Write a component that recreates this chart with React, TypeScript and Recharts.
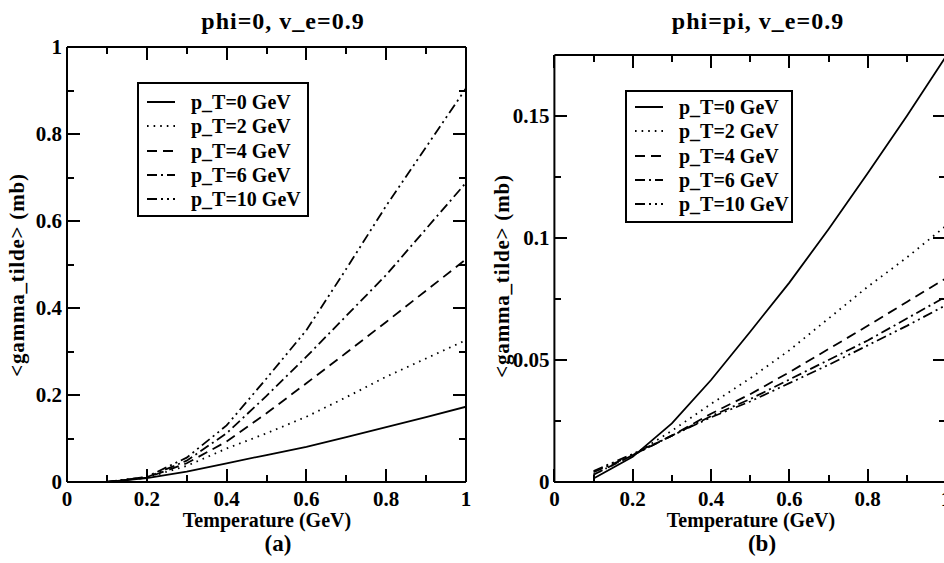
import React from 'react'
import { LineChart, Line, XAxis, YAxis, Legend } from 'recharts'

// temperature grid (GeV)
const temperature = [0.1, 0.2, 0.3, 0.4, 0.5, 0.6, 0.7, 0.8, 0.9, 1.0]

// (a) phi=0, v_e=0.9
const a_pT0 = [0, 0.009, 0.024, 0.043, 0.062, 0.081, 0.103, 0.126, 0.149, 0.173]
const a_pT2 = [0, 0.01, 0.037, 0.077, 0.112, 0.15, 0.195, 0.242, 0.284, 0.326]
const a_pT4 = [0, 0.01, 0.043, 0.093, 0.158, 0.227, 0.297, 0.368, 0.44, 0.512]
const a_pT6 = [0, 0.011, 0.049, 0.112, 0.198, 0.288, 0.382, 0.476, 0.582, 0.688]
const a_pT10 = [0, 0.012, 0.056, 0.13, 0.238, 0.349, 0.49, 0.635, 0.77, 0.905]

// (b) phi=pi, v_e=0.9
const b_pT0 = [0.0014, 0.0103, 0.024, 0.0418, 0.0616, 0.0817, 0.1036, 0.1265, 0.15, 0.1745]
const b_pT2 = [0.003, 0.011, 0.021, 0.032, 0.0425, 0.054, 0.067, 0.08, 0.092, 0.105]
const b_pT4 = [0.003, 0.011, 0.019, 0.028, 0.036, 0.045, 0.0545, 0.064, 0.0738, 0.0835]
const b_pT6 = [0.004, 0.011, 0.019, 0.027, 0.034, 0.042, 0.05, 0.058, 0.067, 0.076]
const b_pT10 = [0.0045, 0.0115, 0.019, 0.0265, 0.033, 0.0405, 0.048, 0.056, 0.064, 0.0725]

const seriesKeys = ['pt0', 'pt2', 'pt4', 'pt6', 'pt10']
const seriesLabels = ['p_T=0 GeV', 'p_T=2 GeV', 'p_T=4 GeV', 'p_T=6 GeV', 'p_T=10 GeV']
const dashStyles = [undefined, '1.6 5', '10 6', '10 4 2 4', '10 4 2 4 2 4']

const xMajor = [0, 0.2, 0.4, 0.6, 0.8, 1]
const xMinor = [0.1, 0.3, 0.5, 0.7, 0.9]
const aYMajor = [0, 0.2, 0.4, 0.6, 0.8, 1]
const aYMinor = [0.1, 0.3, 0.5, 0.7, 0.9]
const bYMajor = [0, 0.05, 0.1, 0.15]
const bYMinor = [0.025, 0.075, 0.125]

const buildRows = (cols: number[][]) =>
  temperature.map((t, i) => {
    const row: Record<string, number> = { t }
    seriesKeys.forEach((k, j) => {
      row[k] = cols[j][i]
    })
    return row
  })

const dataA = buildRows([a_pT0, a_pT2, a_pT4, a_pT6, a_pT10])
const dataB = buildRows([b_pT0, b_pT2, b_pT4, b_pT6, b_pT10])

const H = 563
const FONT = '"Liberation Serif", "Times New Roman", serif'
const frame = { stroke: '#000', strokeWidth: 2 }
const tickText = { fill: '#000', fontSize: 21, fontWeight: 700, fontFamily: FONT }
const MAJOR_LEN = 13
const MINOR_LEN = 7

const LegendBox = ({ top0 }: { top0: number }) => (
  <div
    style={{
      border: '2px solid #000',
      background: '#fff',
      boxSizing: 'border-box',
      width: '100%',
      height: '100%',
      paddingTop: top0,
      fontFamily: FONT,
      fontWeight: 'bold',
      fontSize: 20,
    }}
  >
    {seriesLabels.map((label, i) => (
      <div key={label} style={{ display: 'flex', alignItems: 'center', height: 24.3 }}>
        <svg width={44} height={10} style={{ marginLeft: 8, flex: 'none' }}>
          <line x1={0} y1={5} x2={28} y2={5} stroke="#000" strokeWidth={2} strokeDasharray={dashStyles[i]} />
        </svg>
        <span style={{ lineHeight: 1, whiteSpace: 'nowrap' }}>{label}</span>
      </div>
    ))}
  </div>
)

interface PanelProps {
  data: Record<string, number>[]
  width: number
  margin: { top: number; right: number; bottom: number; left: number }
  yDomain: [number, number]
  yMajor: number[]
  yMinor: number[]
  legend: { left: number; top: number; width: number; height: number; pad: number }
}

// inward tick marks on the four sides of the plot frame, as small black boxes
const TickFrame = ({ width, margin, yDomain, yMajor, yMinor }: Omit<PanelProps, 'data' | 'legend'>) => {
  const left = margin.left + 1
  const right = width - margin.right - 1
  const top = margin.top + 1
  const bottom = H - margin.bottom - 1
  const sx = (v: number) => left + v * (right - left)
  const sy = (v: number) => bottom - ((v - yDomain[0]) / (yDomain[1] - yDomain[0])) * (bottom - top)
  const marks: { l: number; t: number; w: number; h: number }[] = []
  const addX = (v: number, len: number) => {
    marks.push({ l: sx(v) - 1, t: bottom - len, w: 2, h: len })
    marks.push({ l: sx(v) - 1, t: top, w: 2, h: len })
  }
  const addY = (v: number, len: number) => {
    marks.push({ l: left, t: sy(v) - 1, w: len, h: 2 })
    marks.push({ l: right - len, t: sy(v) - 1, w: len, h: 2 })
  }
  xMajor.forEach((v) => addX(v, MAJOR_LEN))
  xMinor.forEach((v) => addX(v, MINOR_LEN))
  yMajor.forEach((v) => addY(v, MAJOR_LEN))
  yMinor.forEach((v) => addY(v, MINOR_LEN))
  return (
    <>
      {marks.map((m, i) => (
        <div
          key={i}
          style={{ position: 'absolute', left: m.l, top: m.t, width: m.w, height: m.h, background: '#000', zIndex: 5 }}
        />
      ))}
    </>
  )
}

const Panel = ({ data, width, margin, yDomain, yMajor, yMinor, legend }: PanelProps) => (
  <div style={{ position: 'relative', width, height: H }}>
    <LineChart width={width} height={H} data={data} margin={margin}>
      <XAxis xAxisId="b" type="number" dataKey="t" domain={[0, 1]} allowDataOverflow ticks={xMajor} interval={0}
        height={1} tickSize={0} tickMargin={9} tickLine={false} axisLine={frame} tick={tickText} />
      <XAxis xAxisId="t" orientation="top" type="number" dataKey="t" domain={[0, 1]} allowDataOverflow ticks={xMajor} interval={0}
        height={1} tickSize={0} tickLine={false} axisLine={frame} tick={false} />
      <YAxis yAxisId="l" type="number" domain={yDomain} allowDataOverflow ticks={yMajor} interval={0}
        width={1} tickSize={0} tickMargin={5} tickLine={false} axisLine={frame} tick={tickText} />
      <YAxis yAxisId="r" orientation="right" type="number" domain={yDomain} allowDataOverflow ticks={yMajor} interval={0}
        width={1} tickSize={0} tickLine={false} axisLine={frame} tick={false} />
      <Legend
        layout="vertical"
        align="center"
        verticalAlign="middle"
        wrapperStyle={{ left: legend.left, top: legend.top, width: legend.width, height: legend.height, zIndex: 2 }}
        content={() => <LegendBox top0={legend.pad} />}
      />
      {seriesKeys.map((k, i) => (
        <Line
          key={k}
          xAxisId="b"
          yAxisId="l"
          type="linear"
          dataKey={k}
          name={seriesLabels[i]}
          stroke="#000"
          strokeWidth={1.8}
          strokeDasharray={dashStyles[i]}
          dot={false}
          activeDot={false}
          isAnimationActive={false}
        />
      ))}
    </LineChart>
    <TickFrame width={width} margin={margin} yDomain={yDomain} yMajor={yMajor} yMinor={yMinor} />
  </div>
)

const Label = ({ x, y, size, children, rotate, spacing }: { x: number; y: number; size: number; children: React.ReactNode; rotate?: boolean; spacing?: number }) => (
  <div
    style={{
      position: 'absolute',
      left: x,
      top: y,
      transform: `translate(-50%, -50%)${rotate ? ' rotate(-90deg)' : ''}`,
      fontFamily: FONT,
      fontWeight: 'bold',
      fontSize: size,
      letterSpacing: spacing ?? 0,
      whiteSpace: 'nowrap',
      lineHeight: 1,
      color: '#000',
    }}
  >
    {children}
  </div>
)

export default function App() {
  return (
    <div style={{ position: 'absolute', left: 0, top: 0, width: 944, height: H, overflow: 'hidden', background: '#fff' }}>
      <div style={{ position: 'absolute', left: 0, top: 0 }}>
        <Panel
          data={dataA}
          width={480}
          margin={{ top: 46, right: 13, bottom: 80, left: 66 }}
          yDomain={[0, 1]}
          yMajor={aYMajor}
          yMinor={aYMinor}
          legend={{ left: 137, top: 82, width: 172, height: 135, pad: 6 }}
        />
      </div>
      <div style={{ position: 'absolute', left: 480, top: 0 }}>
        <Panel
          data={dataB}
          width={470}
          margin={{ top: 54, right: 3, bottom: 80, left: 73.4 }}
          yDomain={[0, 0.175]}
          yMajor={bYMajor}
          yMinor={bYMinor}
          legend={{ left: 145, top: 90, width: 168, height: 133, pad: 3 }}
        />
      </div>
      <Label x={283} y={21} size={24} spacing={1}>phi=0, v_e=0.9</Label>
      <Label x={758} y={21} size={24} spacing={1}>phi=pi, v_e=0.9</Label>
      <Label x={267} y={520} size={20}>Temperature (GeV)</Label>
      <Label x={751} y={520} size={20}>Temperature (GeV)</Label>
      <Label x={278} y={543} size={23}>(a)</Label>
      <Label x={762} y={543} size={23}>(b)</Label>
      <Label x={17} y={275} size={21} spacing={0.8} rotate>{'<gamma_tilde> (mb)'}</Label>
      <Label x={502} y={276} size={21} spacing={0.8} rotate>{'<gamma_tilde> (mb)'}</Label>
    </div>
  )
}
